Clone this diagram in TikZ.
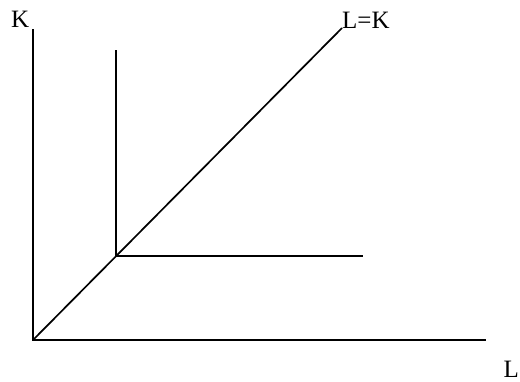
\documentclass[tikz,border=0pt]{standalone}
\usepackage{fontspec}
\setmainfont{Liberation Serif}
\begin{document}
\begin{tikzpicture}[x=1pt,y=-1pt,
  axis/.style={line width=1.7pt,black},
  lbl/.style={inner sep=0pt,font=\fontsize{25}{30}\selectfont}]
\useasboundingbox (0,0) rectangle (520,381);
\coordinate (O) at (33,340);
\coordinate (Ktop) at (33,29);
\coordinate (Lend) at (486,340);
\coordinate (D) at (342,28);
\coordinate (C) at (116,256);
\coordinate (Ctop) at (116,50);
\coordinate (Cright) at (363,256);
\node[lbl,anchor=base west] (K) at (11,27) {K};
\node[lbl,anchor=base west] (LK) at (342,28) {L=K};
\node[lbl,anchor=base west] (L) at (503.5,377) {L};
\draw[axis] (Ktop) -- (O) -- (Lend);
\draw[axis] (O) -- (D);
\draw[axis] (Ctop) -- (C) -- (Cright);
\end{tikzpicture}
\end{document}
